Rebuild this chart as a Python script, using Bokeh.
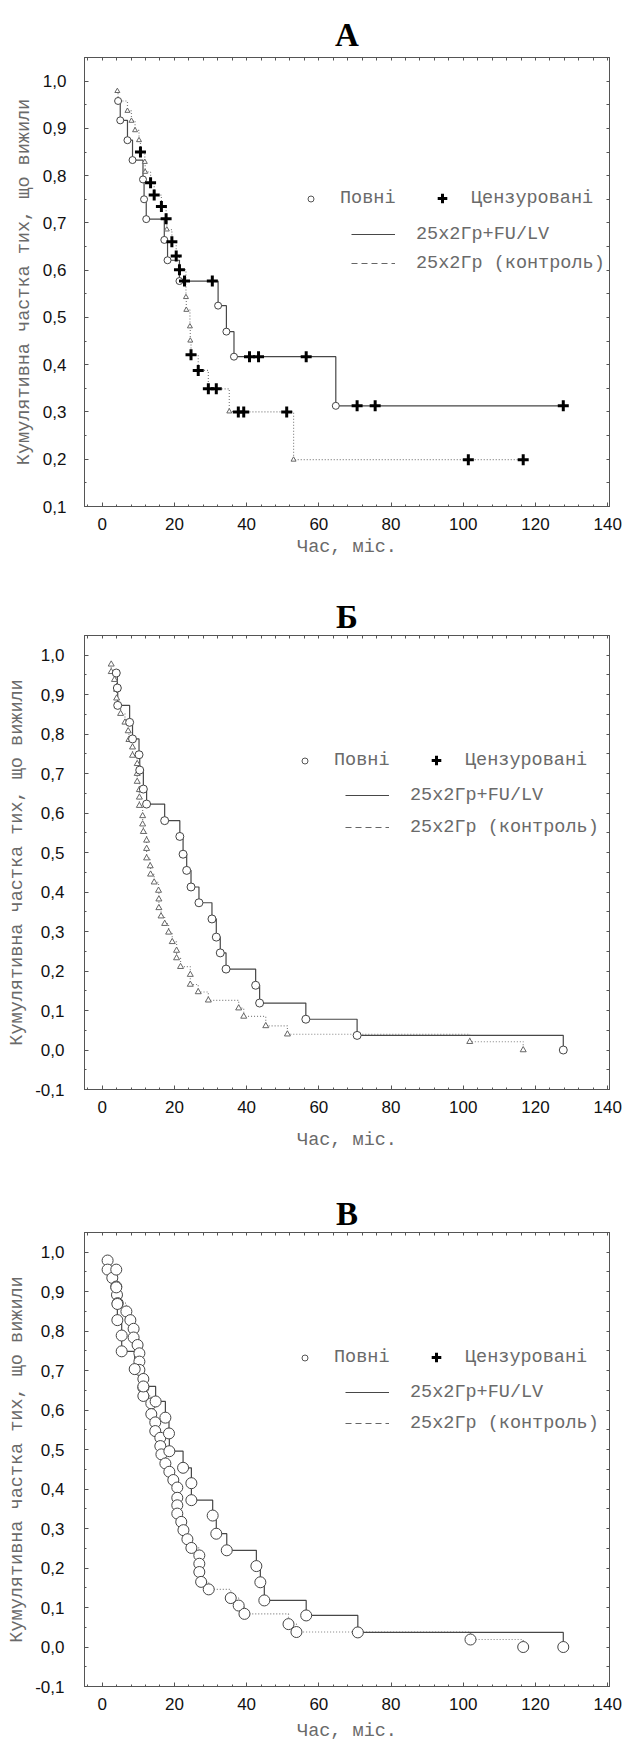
from bokeh.plotting import figure
from bokeh.models import (Range1d, LinearAxis, FixedTicker, CustomJSTickFormatter,
                          Legend, LegendItem, Title)
from bokeh.layouts import column
from bokeh.embed import file_html
from bokeh.resources import INLINE

# ---------------- data ----------------
# Panel А: time (months), cumulative survival, censored flag (1 = censored)
A_trt_time = [4.4, 5.0, 7.0, 8.4, 11.3, 11.6, 12.2, 17.2, 18.1, 21.4, 22.8, 30.5,
              32.1, 34.4, 36.5, 40.8, 43.3, 56.5, 64.7, 70.6, 75.6, 127.7]
A_trt_surv = [0.958, 0.917, 0.875, 0.833, 0.792, 0.750, 0.708, 0.664, 0.621, 0.577,
              0.577, 0.577, 0.525, 0.470, 0.417, 0.417, 0.417, 0.417, 0.313, 0.313,
              0.313, 0.313]
A_trt_cens = [0, 0, 0, 0, 0, 0, 0, 0, 0, 0, 1, 1, 0, 0, 0, 1, 1, 1, 0, 1, 1, 1]

A_ctl_time = [4.2, 4.4, 7.0, 8.1, 9.1, 10.2, 10.6, 11.8, 11.9, 13.4, 14.4, 16.4, 17.7,
              17.9, 19.3, 20.5, 21.4, 23.2, 23.3, 24.3, 24.4, 24.6, 26.6, 29.4, 31.6,
              35.2, 37.7, 39.2, 51.1, 53.0, 101.4, 116.6]
A_ctl_surv = [0.979, 0.958, 0.937, 0.916, 0.896, 0.875, 0.850, 0.829, 0.808, 0.785,
              0.759, 0.735, 0.709, 0.686, 0.660, 0.630, 0.601, 0.543, 0.516, 0.481,
              0.451, 0.421, 0.388, 0.349, 0.349, 0.301, 0.300, 0.300, 0.300, 0.199,
              0.199, 0.199]
A_ctl_cens = [0, 0, 0, 0, 0, 0, 1, 0, 0, 1, 1, 1, 1, 0, 1, 1, 1, 0, 0, 0, 0, 1, 1, 1, 1,
              0, 1, 1, 1, 0, 1, 1]

# Panel Б
B_trt_time = [3.9, 4.2, 4.3, 7.6, 8.4, 10.2, 10.4, 11.4, 12.3, 17.3, 21.5, 22.4, 23.4,
              24.6, 26.8, 30.4, 31.6, 32.7, 34.3, 42.5, 43.6, 56.4, 70.6, 127.7]
B_trt_surv = [0.955, 0.917, 0.873, 0.830, 0.788, 0.748, 0.709, 0.661, 0.623, 0.581,
              0.541, 0.496, 0.455, 0.413, 0.373, 0.332, 0.286, 0.246, 0.205, 0.164,
              0.119, 0.078, 0.037, 0.0]
B_ctl_time = [2.5, 2.5, 3.4, 4.0, 4.0, 4.2, 5.1, 6.3, 7.2, 7.4, 8.4, 8.4, 9.7, 9.7, 9.7,
              10.3, 10.3, 10.3, 11.2, 11.2, 11.4, 12.3, 12.3, 12.3, 13.3, 13.4, 14.4,
              15.6, 15.7, 15.7, 16.3, 17.3, 18.4, 19.4, 20.6, 20.6, 21.7, 24.4, 24.4,
              26.6, 29.4, 37.8, 39.2, 45.3, 51.3, 101.8, 116.6]
B_ctl_surv = [0.977, 0.958, 0.938, 0.913, 0.891, 0.872, 0.852, 0.830, 0.808, 0.786,
              0.767, 0.746, 0.725, 0.700, 0.680, 0.659, 0.640, 0.619, 0.593, 0.572,
              0.553, 0.531, 0.510, 0.486, 0.466, 0.445, 0.425, 0.404, 0.382, 0.360,
              0.339, 0.320, 0.298, 0.274, 0.252, 0.233, 0.211, 0.191, 0.166, 0.147,
              0.126, 0.106, 0.085, 0.061, 0.040, 0.021, 0.0]

# Panel В
V_trt_time = [3.9, 3.9, 4.2, 4.2, 5.4, 5.4, 9.0, 11.4, 14.8, 17.5, 18.5, 18.6, 22.4,
              24.7, 24.7, 30.6, 31.6, 34.5, 42.7, 43.8, 44.9, 56.5, 70.8, 127.7]
V_trt_surv = [0.956, 0.911, 0.869, 0.828, 0.789, 0.749, 0.704, 0.660, 0.622, 0.581,
              0.541, 0.496, 0.454, 0.415, 0.372, 0.333, 0.287, 0.245, 0.205, 0.164,
              0.118, 0.080, 0.037, 0.0]
V_ctl_time = [1.5, 1.5, 2.8, 3.9, 4.1, 4.3, 6.7, 7.8, 8.7, 8.7, 9.8, 10.3, 10.3, 10.3,
              11.4, 11.4, 11.4, 13.6, 13.6, 14.7, 14.7, 16.1, 16.1, 16.4, 17.5, 18.6,
              19.7, 20.8, 20.8, 20.8, 20.8, 21.9, 22.5, 23.6, 24.7, 26.9, 26.9, 26.9,
              27.4, 29.5, 35.6, 37.8, 39.4, 51.6, 53.8, 102.0, 116.6]
V_ctl_surv = [0.979, 0.956, 0.935, 0.913, 0.892, 0.871, 0.850, 0.828, 0.806, 0.784,
              0.765, 0.744, 0.723, 0.702, 0.679, 0.657, 0.636, 0.617, 0.590, 0.569,
              0.547, 0.530, 0.509, 0.488, 0.465, 0.444, 0.423, 0.404, 0.378, 0.359,
              0.338, 0.317, 0.296, 0.273, 0.251, 0.232, 0.211, 0.190, 0.165, 0.146,
              0.124, 0.105, 0.084, 0.058, 0.038, 0.019, 0.0]

X_TICKS = [0, 20, 40, 60, 80, 100, 120, 140]
Y_TICKS_A = [0.1, 0.2, 0.3, 0.4, 0.5, 0.6, 0.7, 0.8, 0.9, 1.0]
Y_TICKS_BV = [-0.1, 0.0, 0.1, 0.2, 0.3, 0.4, 0.5, 0.6, 0.7, 0.8, 0.9, 1.0]

TITLES = ["А", "Б", "В"]
Y_LABEL = "Кумулятивна частка тих, що вижили"
X_LABEL = "Час, міс."
LEG_EVENT = "Повні"
LEG_CENS = "Цензуровані"
LEG_TRT = "25x2Гр+FU/LV"
LEG_CTL = "25x2Гр (контроль)"

# ---------------- styling ----------------
MONO = "Liberation Mono"
SANS = "Liberation Sans"
SERIF = "Liberation Serif"
GRAY_TXT = "#6a6a6a"
AX_COL = "#555555"
TRT_COL = "#474747"
CTL_COL = "#808080"
NAN = float("nan")

X_MINOR = [v * 4 for v in range(-1, 36)]


def y_minor(lo):
    out = []
    k = int(round(lo / 0.05))
    while k * 0.05 <= 1.05 + 1e-9:
        out.append(round(k * 0.05, 3))
        k += 1
    return out


def style_axis(ax):
    ax.axis_line_color = AX_COL
    ax.major_tick_line_color = AX_COL
    ax.minor_tick_line_color = AX_COL
    ax.major_tick_in = 4
    ax.major_tick_out = 0
    ax.minor_tick_in = 2
    ax.minor_tick_out = 0
    ax.major_label_text_font = SANS
    ax.major_label_text_font_size = "17px"
    ax.major_label_text_color = "#111111"
    ax.axis_label_text_font = MONO
    ax.axis_label_text_font_size = "18.5px"
    ax.axis_label_text_font_style = "normal"
    ax.axis_label_text_color = GRAY_TXT


def tick_only_axis(all_ticks):
    ax = LinearAxis(ticker=FixedTicker(ticks=[], minor_ticks=all_ticks))
    ax.axis_line_color = AX_COL
    ax.minor_tick_line_color = AX_COL
    ax.minor_tick_in = 3
    ax.minor_tick_out = 0
    ax.major_tick_in = 0
    ax.major_tick_out = 0
    ax.major_label_standoff = 0
    return ax


def km_panel(idx, trt_t, trt_s, trt_c, ctl_t, ctl_s, ctl_c, ylo, yticks, d):
    p = figure(width=625, height=d["H"], x_range=Range1d(-4.9, 140.5),
               y_range=Range1d(ylo, 1.05), output_backend="svg",
               toolbar_location=None, x_axis_type=None, y_axis_type=None,
               min_border_left=d["bl"], min_border_right=d["br"],
               min_border_top=d["bt"], min_border_bottom=d["bb"])
    p.outline_line_color = AX_COL
    p.background_fill_color = "white"
    p.border_fill_color = "white"

    ymin = y_minor(ylo)
    xt = FixedTicker(ticks=X_TICKS, minor_ticks=X_MINOR)
    yt = FixedTicker(ticks=yticks, minor_ticks=ymin)
    fmt = CustomJSTickFormatter(code="return tick.toFixed(1).replace('.', ',');")

    xb = LinearAxis(ticker=xt)
    style_axis(xb)
    xb.major_label_standoff = 11
    p.add_layout(xb, "below")

    # x-axis caption (slightly left of the frame centre, as in the original)
    xcap = Title(text=X_LABEL, align="center", offset=d["xoff"], standoff=d["xls"],
                 text_font=MONO, text_font_size="18.5px", text_font_style="normal",
                 text_color=GRAY_TXT)
    p.add_layout(xcap, "below")

    yl = LinearAxis(ticker=yt, formatter=fmt, axis_label=Y_LABEL)
    style_axis(yl)
    yl.major_label_standoff = d["yms"]
    yl.axis_label_standoff = d["yls"]
    p.add_layout(yl, "left")

    p.add_layout(tick_only_axis(sorted(set(X_TICKS + X_MINOR))), "above")
    p.add_layout(tick_only_axis(ymin), "right")

    p.title.text = TITLES[idx]
    p.title.align = "center"
    p.title.text_font = SERIF
    p.title.text_font_size = "33px"
    p.title.text_font_style = "bold"
    p.title.text_color = "#000000"
    p.title.standoff = d["ts"]

    # Kaplan-Meier step curves
    p.step(ctl_t, ctl_s, mode="after", line_color=CTL_COL, line_width=1.2,
           line_dash="1 2")
    p.step(trt_t, trt_s, mode="after", line_color=TRT_COL, line_width=1.2)

    te = [(t, s) for t, s, c in zip(trt_t, trt_s, trt_c) if c == 0]
    ce = [(t, s) for t, s, c in zip(ctl_t, ctl_s, ctl_c) if c == 0]
    tc = [(t, s) for t, s, c in zip(trt_t, trt_s, trt_c) if c == 1]
    cc = [(t, s) for t, s, c in zip(ctl_t, ctl_s, ctl_c) if c == 1]

    if d["big"]:
        p.scatter([a for a, b in ce], [b for a, b in ce], marker="circle", size=11,
                  fill_color="white", line_color="#444444", line_width=1)
        p.scatter([a for a, b in te], [b for a, b in te], marker="circle", size=11,
                  fill_color="white", line_color="#444444", line_width=1)
    else:
        p.scatter([a for a, b in ce], [b for a, b in ce], marker="triangle", size=d["tri"],
                  fill_color="white", line_color="#666666", line_width=1)
        p.scatter([a for a, b in te], [b for a, b in te], marker="circle", size=d["circ"],
                  fill_color="white", line_color="#444444", line_width=1)
    cens = tc + cc
    if cens:
        p.scatter([a for a, b in cens], [b for a, b in cens], marker="cross", size=11,
                  line_color="black", line_width=3)

    # legend proxies (NaN data: nothing drawn in the plot, glyph shown in legend)
    r_ev = p.scatter(x=[NAN], y=[NAN], marker="circle", size=6, fill_color="white",
                     line_color="#555555", line_width=1)
    r_ce = p.scatter(x=[NAN], y=[NAN], marker="cross", size=10, line_color="black",
                     line_width=3)
    r_tr = p.line(x=[NAN, NAN], y=[NAN, NAN], line_color=TRT_COL, line_width=1.2)
    r_ct = p.line(x=[NAN, NAN], y=[NAN, NAN], line_color="#666666", line_width=1.2,
                  line_dash="6 4")

    common = dict(padding=0, margin=0, border_line_alpha=0, background_fill_alpha=0,
                  label_text_font=MONO, label_text_font_size="18.5px",
                  label_text_color=GRAY_TXT, label_height=24)
    lg1 = Legend(items=[LegendItem(label=LEG_EVENT, renderers=[r_ev])],
                 location=d["l1"], glyph_width=15, glyph_height=15,
                 label_standoff=22, **common)
    lg2 = Legend(items=[LegendItem(label=LEG_CENS, renderers=[r_ce])],
                 location=d["l2"], glyph_width=24, glyph_height=24,
                 label_standoff=17, **common)
    lg3 = Legend(items=[LegendItem(label=LEG_TRT, renderers=[r_tr]),
                        LegendItem(label=LEG_CTL, renderers=[r_ct])],
                 location=d["l3"], glyph_width=44, glyph_height=24,
                 label_standoff=21, spacing=d["sp"], **common)
    for lg in (lg1, lg2, lg3):
        p.add_layout(lg, "center")
    return p


dA = dict(H=590, bl=78, br=16, bt=57, bb=84, xls=4, xoff=-8, yms=18, yls=5, ts=10,
          circ=7, tri=5, big=False, l1=(219, 296), l2=(346, 296), l3=(267, 231), sp=5)
dB = dict(H=580, bl=84, br=11, bt=45, bb=81, xls=25, xoff=-12, yms=20, yls=4, ts=2,
          circ=8, tri=6, big=False, l1=(213, 317), l2=(340, 317), l3=(261, 250), sp=8)
dV = dict(H=580, bl=84, br=11, bt=62, bb=64, xls=13, xoff=-12, yms=20, yls=4, ts=2,
          circ=8, tri=6, big=True, l1=(213, 317), l2=(340, 317), l3=(261, 251), sp=7)

pA = km_panel(0, A_trt_time, A_trt_surv, A_trt_cens, A_ctl_time, A_ctl_surv, A_ctl_cens,
              0.1, Y_TICKS_A, dA)
pB = km_panel(1, B_trt_time, B_trt_surv, [0] * len(B_trt_time), B_ctl_time, B_ctl_surv,
              [0] * len(B_ctl_time), -0.1, Y_TICKS_BV, dB)
pV = km_panel(2, V_trt_time, V_trt_surv, [0] * len(V_trt_time), V_ctl_time, V_ctl_surv,
              [0] * len(V_ctl_time), -0.1, Y_TICKS_BV, dV)

layout = column(pA, pB, pV, spacing=0)
open("out.html", "w").write(file_html(layout, INLINE))
